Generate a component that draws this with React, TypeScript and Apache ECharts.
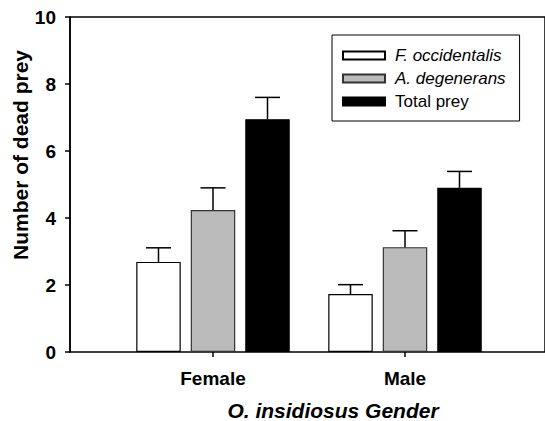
import React, { useEffect, useRef } from "react";
import * as echarts from "echarts";

const categories = ["Female", "Male"];
const seriesNames = ["F. occidentalis", "A. degenerans", "Total prey"];
const fOccidentalis = [2.69, 1.73];
const aDegenerans = [4.24, 3.13];
const totalPrey = [6.95, 4.9];
const fOccidentalisErr = [0.42, 0.28];
const aDegeneransErr = [0.66, 0.49];
const totalPreyErr = [0.65, 0.49];
const yMin = 0;
const yMax = 10;
const yInterval = 2;
const xTitle = "O. insidiosus Gender";
const yTitle = "Number of dead prey";

const FONT = "'Liberation Sans', Arial, Helvetica, sans-serif";
const BAR_W = 44.5;
const BAR_GAP = 10;
const CAP = 12.5;

export default function App() {
  const ref = useRef<HTMLDivElement>(null);
  useEffect(() => {
    if (!ref.current) return;
    const chart = echarts.init(ref.current, undefined, { renderer: "svg" });
    const values = [fOccidentalis, aDegenerans, totalPrey];
    const errs = [fOccidentalisErr, aDegeneransErr, totalPreyErr];
    const fills = ["#ffffff", "#bbbbbb", "#000000"];
    const borders = ["#000000", "#333333", "#000000"];
    const errData: number[][] = [];
    categories.forEach((_, ci) => {
      values.forEach((vals, si) => {
        errData.push([ci, si, vals[ci], errs[si][ci]]);
      });
    });
    const barSeries = seriesNames.map((name, si) => ({
      name,
      type: "bar",
      xAxisIndex: 1,
      yAxisIndex: 1,
      barWidth: BAR_W,
      barGap: (BAR_GAP / BAR_W) * 100 + "%",
      data: values[si],
      itemStyle: { color: fills[si], borderColor: borders[si], borderWidth: 1.2 },
      z: 2,
    }));
    chart.setOption({
      animation: false,
      backgroundColor: "#ffffff",
      textStyle: { fontFamily: FONT },
      grid: [
        { left: 70, top: 17, width: 476, height: 335, show: true, borderColor: "#000", borderWidth: 1.5 },
        { left: 117, top: 17, width: 384, height: 335 },
      ],
      xAxis: [
        { type: "value", gridIndex: 0, min: 0, max: 1, show: false },
        {
          type: "category",
          gridIndex: 1,
          data: categories,
          axisLine: { show: false },
          axisTick: { show: true, alignWithLabel: true, length: 5, lineStyle: { color: "#000", width: 1.5 } },
          axisLabel: { color: "#000", fontSize: 19, fontWeight: "bold", fontFamily: FONT, margin: 17 },
        },
      ],
      yAxis: [
        {
          type: "value",
          gridIndex: 0,
          min: yMin,
          max: yMax,
          interval: yInterval,
          axisLine: { show: true, lineStyle: { color: "#000", width: 1.5 } },
          axisTick: { show: true, length: 5, lineStyle: { color: "#000", width: 1.5 } },
          axisLabel: { color: "#000", fontSize: 19, fontWeight: "bold", fontFamily: FONT, margin: 14 },
          splitLine: { show: false },
        },
        { type: "value", gridIndex: 1, min: yMin, max: yMax, show: false, splitLine: { show: false } },
      ],
      legend: {
        orient: "vertical",
        left: 332,
        top: 35,
        padding: [12, 14, 11, 10],
        itemGap: 6,
        itemWidth: 42,
        itemHeight: 8,
        borderColor: "#000",
        borderWidth: 1,
        icon: "rect",
        textStyle: { color: "#000", fontSize: 17, fontFamily: FONT, padding: [0, 0, 0, 5] },
        data: [
          { name: seriesNames[0], textStyle: { fontStyle: "italic", fontSize: 17, padding: [0, 0, 0, 5] } },
          { name: seriesNames[1], textStyle: { fontStyle: "italic", fontSize: 17, padding: [0, 0, 0, 5] } },
          { name: seriesNames[2] },
        ],
      },
      graphic: [
        {
          type: "text",
          x: 20,
          y: 155,
          rotation: Math.PI / 2,
          style: {
            text: yTitle,
            fill: "#000",
            font: "bold 21px " + FONT,
            align: "center",
            verticalAlign: "middle",
          },
        },
        {
          type: "text",
          x: 333,
          y: 410,
          style: {
            text: xTitle,
            fill: "#000",
            font: "italic bold 21px " + FONT,
            align: "center",
            verticalAlign: "middle",
          },
        },
      ],
      series: [
        ...barSeries,
        {
          type: "custom",
          xAxisIndex: 1,
          yAxisIndex: 1,
          z: 3,
          data: errData,
          encode: { x: 0, y: 2 },
          renderItem: (params: any, api: any) => {
            const ci = api.value(0);
            const si = api.value(1);
            const v = api.value(2);
            const e = api.value(3);
            const base = api.coord([ci, v]);
            const top = api.coord([ci, v + e]);
            const x = base[0] + (si - 1) * (BAR_W + BAR_GAP);
            const style = { stroke: "#000", lineWidth: 1.5 };
            return {
              type: "group",
              children: [
                { type: "line", shape: { x1: x, y1: base[1], x2: x, y2: top[1] }, style },
                { type: "line", shape: { x1: x - CAP, y1: top[1], x2: x + CAP, y2: top[1] }, style },
              ],
            };
          },
        },
      ],
    });
    return () => chart.dispose();
  }, []);
  return (
    <div
      ref={ref}
      style={{ position: "fixed", left: 0, top: 0, width: 545, height: 421, background: "#fff" }}
    />
  );
}
